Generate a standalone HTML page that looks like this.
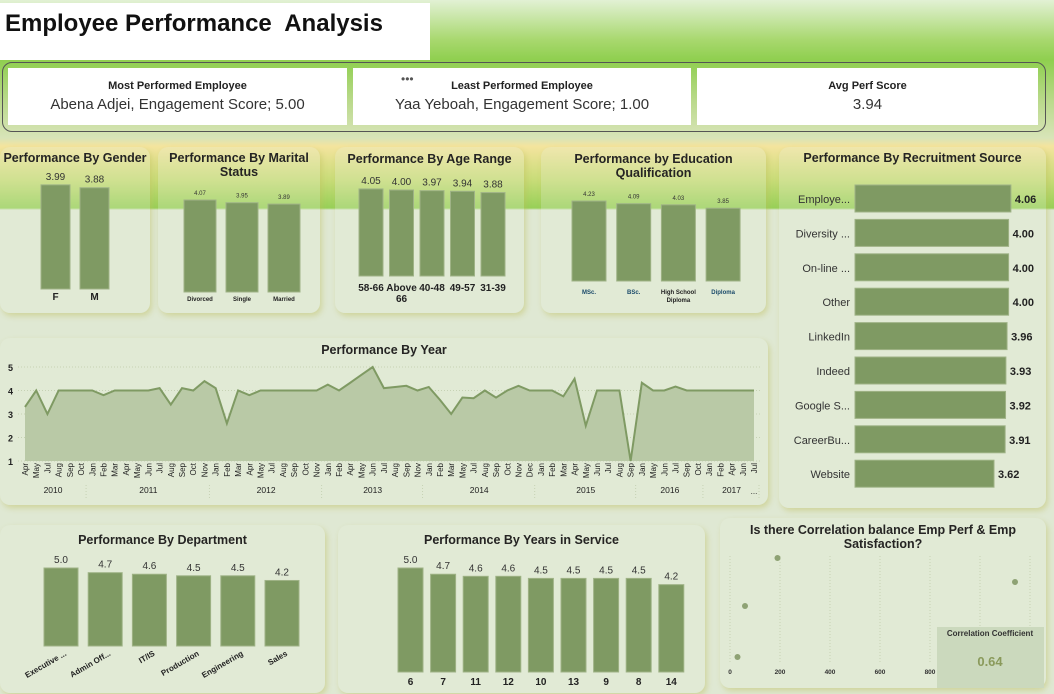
<!DOCTYPE html>
<html><head><meta charset="utf-8">
<style>
body{margin:0;width:1054px;height:694px;overflow:hidden;font-family:"Liberation Sans",sans-serif;position:relative;
background:linear-gradient(180deg,#e2f1d4 0px,#a8d86e 40px,#8fcf4f 60px,#b9d98a 100px,#d8e4b8 138px,#f4e49e 146px,#c8dc78 180px,#98d058 208px,#dfe8d3 210px,#dfe8d3 100%);}
.abs{position:absolute}
.card{position:absolute;border-radius:10px;background:rgba(230,238,220,0.25);box-shadow:2px 3px 6px rgba(190,190,90,0.45);}
.t{font-weight:bold;font-size:12.5px;color:#252423;text-align:center;position:absolute;left:0;right:0}
svg text{font-family:"Liberation Sans",sans-serif}
.kpi{position:absolute;top:68px;height:57px;background:#fff;text-align:center}
.kpi .h{font-size:11px;font-weight:bold;margin-top:12px;color:#222}
.kpi .v{font-size:15px;margin-top:4px;color:#333}
</style></head><body>
<div class="abs" style="left:0;top:3px;width:430px;height:57px;background:#fff"></div>
<div class="abs" style="left:5px;top:10px;font-size:24px;font-weight:bold;color:#111">Employee Performance&nbsp; Analysis</div>
<div class="abs" style="left:2px;top:62px;width:1042px;height:68px;border:1.5px solid #555;border-radius:10px"></div>
<div class="kpi" style="left:8px;width:339px"><div class="h">Most Performed Employee</div><div class="v">Abena Adjei, Engagement Score; 5.00</div></div>
<div class="kpi" style="left:353px;width:338px"><div class="abs" style="left:48px;top:4px;font-size:12px;color:#555">•••</div><div class="h">Least Performed Employee</div><div class="v">Yaa Yeboah, Engagement Score; 1.00</div></div>
<div class="kpi" style="left:697px;width:341px"><div class="h">Avg Perf Score</div><div class="v">3.94</div></div>

<div class="card" style="left:0;top:147px;width:150px;height:166px"><div class="t" style="top:4px">Performance By Gender</div></div>
<div class="card" style="left:158px;top:147px;width:162px;height:166px"><div class="t" style="top:4px">Performance By Marital<br>Status</div></div>
<div class="card" style="left:335px;top:147px;width:189px;height:166px"><div class="t" style="top:5px">Performance By Age Range</div></div>
<div class="card" style="left:541px;top:147px;width:225px;height:166px"><div class="t" style="top:5px">Performance by Education<br>Qualification</div></div>
<div class="card" style="left:779px;top:147px;width:267px;height:361px"><div class="t" style="top:4px">Performance By Recruitment Source</div></div>
<div class="card" style="left:0;top:338px;width:768px;height:167px"><div class="t" style="top:5px">Performance By Year</div></div>
<div class="card" style="left:0;top:525px;width:325px;height:168px"><div class="t" style="top:8px">Performance By Department</div></div>
<div class="card" style="left:338px;top:525px;width:367px;height:168px"><div class="t" style="top:8px">Performance By Years in Service</div></div>
<div class="card" style="left:720px;top:518px;width:326px;height:170px"><div class="t" style="top:5px">Is there Correlation balance Emp Perf &amp; Emp<br>Satisfaction?</div></div>

<svg id="s" class="abs" style="left:0;top:0" width="1054" height="694"></svg>

<script>
const genderCats=["F","M"], genderVals=[3.99,3.88];
const maritalCats=["Divorced","Single","Married"], maritalVals=[4.07,3.95,3.89];
const ageCats=["58-66","Above 66","40-48","49-57","31-39"], ageVals=[4.05,4.00,3.97,3.94,3.88];
const eduCats=["MSc.","BSc.","High School Diploma","Diploma"], eduVals=[4.23,4.09,4.03,3.85];
const recCats=["Employe...","Diversity ...","On-line ...","Other","LinkedIn","Indeed","Google S...","CareerBu...","Website"], recVals=[4.06,4.00,4.00,4.00,3.96,3.93,3.92,3.91,3.62];
const deptCats=["Executive ...","Admin Off...","IT/IS","Production","Engineering","Sales"], deptVals=[5.0,4.7,4.6,4.5,4.5,4.2];
const ysCats=["6","7","11","12","10","13","9","8","14"], ysVals=[5.0,4.7,4.6,4.6,4.5,4.5,4.5,4.5,4.2];
const yearGroups=["2010","2011","2012","2013","2014","2015","2016","2017"];
const monthLabels=[["Apr","May","Jul","Aug","Sep","Oct"],["Jan","Feb","Mar","Apr","May","Jun","Jul","Aug","Sep","Oct","Nov"],["Jan","Feb","Mar","Apr","May","Jul","Aug","Sep","Oct","Nov"],["Jan","Feb","Apr","May","Jun","Jul","Aug","Sep","Nov"],["Jan","Feb","Mar","May","Jul","Aug","Sep","Oct","Nov","Dec"],["Jan","Feb","Mar","Apr","May","Jun","Jul","Aug","Sep"],["Jan","May","Jun","Jul","Sep","Oct"],["Jan","Feb","Apr","Jun","Jul"]];
const perfVals=[3.3,4,3,4,4,4, 4,3.8,4,4,4,4,4.1,3.4,4.1,4,4.4, 4.1,2.6,4,3.8,4,4,4,4,4,4, 4.25,4,4.33,4.67,5,4.1,4.15,4.2,4, 4.15,3.6,3,3.7,3.67,4,3.7,4,4.2,4, 4,4,3.75,4.5,2.5,4,4,4,1, 4.33,4,4,4.17,4,4, 4,4,4,4,4];
const yTicks=[1,2,3,4,5];
const scX=[30,60,190,1140], scY=[0.2,1.9,3.5,2.7];
const scTicks=[0,200,400,600,800,1000,1200];

const S=document.getElementById('s');const NS="http://www.w3.org/2000/svg";
function mk(tag,at,txt){const e=document.createElementNS(NS,tag);for(const k in at)e.setAttribute(k,at[k]);if(txt!=null)e.textContent=txt;S.appendChild(e);return e;}
const G="#7f9a63";
function vbars(name,cats,vals,x0,step,w,base,scale,vfs,cfs,cy,rot){
  cats.forEach((c,i)=>{const x=x0+i*step,h=vals[i]*scale;
    const r=mk('rect',{x:x,y:base-h,width:w,height:h,fill:G,stroke:"#9fb386","stroke-width":1});
    
    
    const dec=(name=='dept'||name=='ys')?1:2;
    const t=mk('text',{x:x+w/2,y:base-h-5,"text-anchor":"middle","font-size":vfs,fill:"#333"},vals[i].toFixed(dec));
    
    
    let l;
    if(rot){l=mk('text',{x:x+w/2+6,y:cy,"text-anchor":"end","font-size":cfs,"font-weight":"bold",fill:"#222",transform:`rotate(-30 ${x+w/2+6} ${cy})`},c);}
    else if(c.indexOf(' ')>0&&name!='dept'){const p=c.split(' ');const half=name=='edu'?2:1;
      l=mk('text',{x:x+w/2,y:cy,"text-anchor":"middle","font-size":cfs,"font-weight":"bold",fill:"#222"},p.slice(0,half).join(' '));
      mk('text',{x:x+w/2,y:cy+(name=='edu'?8:11),"text-anchor":"middle","font-size":cfs,"font-weight":"bold",fill:"#222"},p.slice(half).join(' '));}
    else l=mk('text',{x:x+w/2,y:cy,"text-anchor":"middle","font-size":cfs,"font-weight":"bold",fill:name=='edu'?"#1a4a6a":"#222"},c);
    
    
  });
}
vbars('gender',genderCats,genderVals,41,39,29,289,26.1,10,10,300);
vbars('marital',maritalCats,maritalVals,184,42,32,292,22.6,6,6,301);
vbars('age',ageCats,ageVals,359,30.5,24,276,21.5,10,10,291);
vbars('edu',eduCats,eduVals,572,44.7,34,281,18.9,6,6,294);
vbars('dept',deptCats,deptVals,44,44.2,34,646,15.6,10,8,655,true);
vbars('ys',ysCats,ysVals,398,32.6,25,672,20.8,10,10,685);

// recruitment horizontal
recCats.forEach((c,i)=>{const y=185+i*34.4,w=recVals[i]*38.4;
  const r=mk('rect',{x:855,y:y,width:w,height:27,fill:G,stroke:"#9fb386"});
  
  
  const l=mk('text',{x:850,y:y+18,"text-anchor":"end","font-size":11,fill:"#333"},c);
  
  
  const v=mk('text',{x:855+w+4,y:y+18,"font-size":11,"font-weight":"bold",fill:"#222"},recVals[i].toFixed(2));
  
  
});

// line chart
const lx0=25,lx1=754,ly=v=>461-(v-1)*23.5,n=perfVals.length,lxs=i=>lx0+i*(lx1-lx0)/(n-1);
yTicks.forEach(t=>{mk('line',{x1:18,x2:760,y1:ly(t),y2:ly(t),stroke:"#c6d2b4","stroke-dasharray":"1,2"});
  const e=mk('text',{x:13,y:ly(t)+4,"text-anchor":"end","font-size":9,"font-weight":"bold",fill:"#222"},t);
  
  });
let d="M"+lxs(0)+","+ly(1);perfVals.forEach((v,i)=>d+=" L"+lxs(i)+","+ly(v));d+=" L"+lxs(n-1)+","+ly(1)+"Z";
const ar=mk('path',{d:d,fill:"#b9c9a6"});
const ln=mk('polyline',{points:perfVals.map((v,i)=>lxs(i)+","+ly(v)).join(" "),fill:"none",stroke:G,"stroke-width":2});

let k=0;monthLabels.forEach((ms,g)=>{const s=k;ms.forEach(m=>{const x=lxs(k);
  const e=mk('text',{x:x+3,y:463,"text-anchor":"end","font-size":8,fill:"#222",transform:`rotate(-90 ${x+3} 463)`},m);
  k++;});
  const cx=(lxs(s)+lxs(k-1))/2;
  const y=mk('text',{x:cx,y:493,"text-anchor":"middle","font-size":8.5,fill:"#222"},yearGroups[g]);
  
  mk('line',{x1:lxs(k-1)+5,x2:lxs(k-1)+5,y1:485,y2:500,stroke:"#c6d2b4","stroke-dasharray":"1,2"});});
mk('text',{x:754,y:494,"text-anchor":"middle","font-size":8,fill:"#222"},"...");

// scatter
const sx=v=>730+v*0.25, sy=v=>663-v*30;
scTicks.forEach(t=>{mk('line',{x1:sx(t),x2:sx(t),y1:556,y2:664,stroke:"#c6d2b4","stroke-dasharray":"1,2"});
  const e=mk('text',{x:sx(t),y:674,"text-anchor":"middle","font-size":6.5,"font-weight":"bold",fill:"#333"},t);
  });
scX.forEach((v,i)=>{const c=mk('circle',{cx:sx(v),cy:sy(scY[i]),r:3,fill:"#8ea274"});
  });
const bx=mk('rect',{x:937,y:627,width:107,height:61,fill:"#cbd9bd"});
mk('text',{x:990,y:636,"text-anchor":"middle","font-size":8,"font-weight":"bold",fill:"#333"},"Correlation Coefficient");
const cv=mk('text',{x:990,y:666,"text-anchor":"middle","font-size":13,"font-weight":"bold",fill:"#8a9a5b"},"0.64");

</script>
</body></html>
